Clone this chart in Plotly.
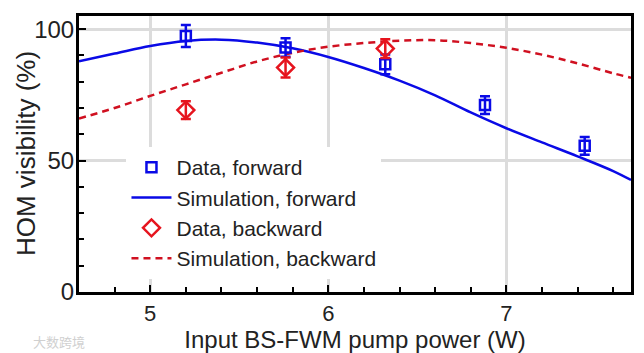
import plotly.graph_objects as go

# Data
fwd_x = [5.2, 5.76, 6.32, 6.88, 7.44]
fwd_y = [97.4, 93.0, 86.6, 71.1, 55.6]
fwd_err = [4.2, 3.5, 3.8, 3.4, 3.4]

bwd_x = [5.2, 5.76, 6.32]
bwd_y = [69.2, 85.4, 92.6]
bwd_err = [3.4, 3.8, 3.6]

sim_x = [4.6, 4.8, 5.0, 5.2, 5.4, 5.6, 5.8, 6.0, 6.2, 6.4, 6.6, 6.8, 7.0, 7.2, 7.4, 7.6, 7.7]
sim_fwd_y = [87.8, 90.7, 93.6, 95.5, 96.0, 94.9, 92.7, 89.4, 85.2, 80.4, 74.8, 68.3, 62.3, 56.9, 51.6, 46.0, 42.6]
sim_bwd_y = [66.0, 70.0, 74.6, 79.0, 83.4, 87.7, 91.0, 93.3, 94.7, 95.6, 95.8, 94.7, 92.9, 90.3, 87.0, 83.2, 81.5]

x_ticks = [5, 6, 7]
y_ticks = [0, 50, 100]
x_range = [4.6, 7.7]
y_range = [0, 105]

BLUE = "#0a0ae6"
RED = "#e6141e"
RED_DASH = "#d01020"
FONT = "Liberation Sans, Arial, sans-serif"
TXT = "#222222"

fig = go.Figure()

fig.add_trace(go.Scatter(
    x=sim_x, y=sim_fwd_y, mode="lines", name="Simulation, forward",
    line=dict(color=BLUE, width=2.5, shape="spline"), legendrank=2, legendgroup="b"))
fig.add_trace(go.Scatter(
    x=sim_x, y=sim_bwd_y, mode="lines", name="Simulation, backward",
    line=dict(color=RED_DASH, width=2.5, dash="7px,5px", shape="spline"), legendrank=4, legendgroup="d"))
fig.add_trace(go.Scatter(
    x=fwd_x, y=fwd_y, mode="markers", name="Data, forward",
    marker=dict(symbol="square-open", size=10, color=BLUE, line=dict(width=2.5, color=BLUE)),
    error_y=dict(type="data", array=fwd_err, visible=True, color=BLUE, thickness=2.5, width=5),
    legendrank=1, legendgroup="a"))
fig.add_trace(go.Scatter(
    x=bwd_x, y=bwd_y, mode="markers", name="Data, backward",
    marker=dict(symbol="diamond-open", size=13, color=RED, line=dict(width=2.5, color=RED)),
    error_y=dict(type="data", array=bwd_err, visible=True, color=RED, thickness=2.5, width=5),
    legendrank=3, legendgroup="c"))

tick_style = dict(ticks="inside", ticklen=7, tickwidth=2, tickcolor="black")

fig.update_layout(
    xaxis=dict(
        range=x_range, tickvals=x_ticks, ticktext=[str(v) for v in x_ticks],
        showline=True, linecolor="black", linewidth=3, mirror=True,
        showgrid=True, gridcolor="#dcdcdc", gridwidth=2.5, zeroline=False,
        tickfont=dict(family=FONT, size=22, color=TXT), automargin=False,
        minor=dict(dtick=0.2, tick0=5, ticks="inside", ticklen=5, tickwidth=2, tickcolor="black", showgrid=False),
        title=dict(text="Input BS-FWM pump power (W)", font=dict(family=FONT, size=24, color=TXT), standoff=10),
        **tick_style),
    yaxis=dict(
        range=y_range, tickvals=y_ticks, ticktext=[str(v) for v in y_ticks],
        showline=True, linecolor="black", linewidth=3, mirror=True,
        showgrid=True, gridcolor="#dcdcdc", gridwidth=2.5, zeroline=False,
        tickfont=dict(family=FONT, size=24, color=TXT), automargin=False,
        minor=dict(dtick=10, tick0=0, ticks="inside", ticklen=5, tickwidth=2, tickcolor="black", showgrid=False),
        ticklabelstandoff=-3,
        **tick_style),
    xaxis2=dict(
        overlaying="x", side="top", range=x_range, tickvals=x_ticks, showticklabels=False,
        showline=False, showgrid=False, zeroline=False, automargin=False,
        minor=dict(dtick=0.2, tick0=5, ticks="inside", ticklen=5, tickwidth=2, tickcolor="black", showgrid=False),
        **tick_style),
    yaxis2=dict(
        overlaying="y", side="right", range=y_range, tickvals=y_ticks, showticklabels=False,
        showline=False, showgrid=False, zeroline=False, automargin=False,
        minor=dict(dtick=10, tick0=0, ticks="inside", ticklen=5, tickwidth=2, tickcolor="black", showgrid=False),
        **tick_style),
    width=644, height=353,
    margin=dict(l=79, r=13, t=16, b=61),
    paper_bgcolor="white", plot_bgcolor="white",
    font=dict(family=FONT, color=TXT),
    legend=dict(
        x=0.086, y=0.525, xanchor="left", yanchor="top",
        bgcolor="white", borderwidth=0,
        font=dict(family=FONT, size=21, color=TXT),
        traceorder="grouped", tracegroupgap=0, itemwidth=40,
    ),
    showlegend=True,
    annotations=[
        dict(text="HOM visibility (%)", x=-0.096, y=0.5, xref="paper", yref="paper",
             xanchor="center", yanchor="middle", textangle=-90, showarrow=False,
             font=dict(family=FONT, size=26, color=TXT)),
        dict(text="大数跨境", x=-0.036, y=-0.178, xref="paper", yref="paper",
             xanchor="center", yanchor="middle", showarrow=False,
             font=dict(family="Noto Sans CJK SC", size=13, color="#d0d0d0")),
    ],
)

fig.write_html("out.html")
